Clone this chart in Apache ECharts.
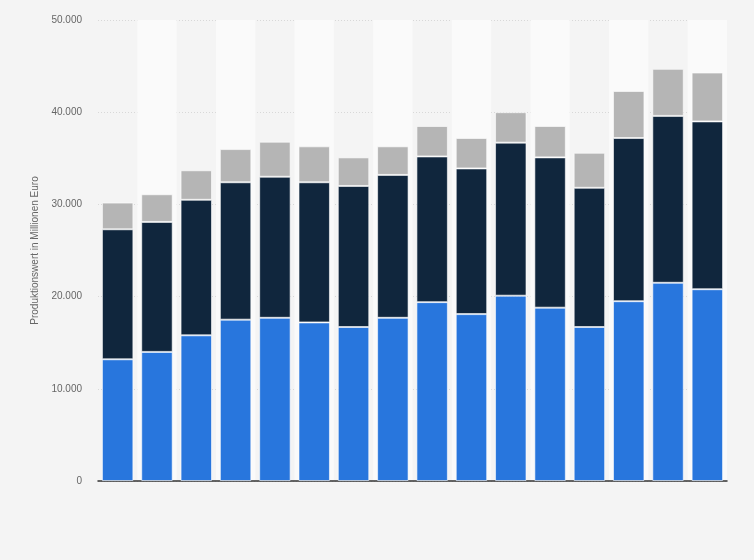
<!DOCTYPE html>
<html><head><meta charset="utf-8">
<script src="https://cdn.jsdelivr.net/npm/echarts@6/dist/echarts.min.js"></script>
<style>html,body{margin:0;padding:0;background:#f4f4f4}#c{width:754px;height:560px}</style>
</head><body><div id="c"></div>
<script>
const categories = ['1','2','3','4','5','6','7','8','9','10','11','12','13','14','15','16'];
const seriesA = [13200,14000,15800,17500,17700,17200,16700,17700,19400,18100,20100,18800,16700,19500,21500,20800];
const seriesB = [14100,14100,14700,14900,15300,15200,15300,15500,15800,15800,16600,16300,15100,17700,18100,18200];
const seriesC = [2900,3000,3200,3600,3800,3900,3100,3100,3300,3300,3300,3400,3800,5100,5100,5300];
const yTicks = [0,10000,20000,30000,40000,50000];
const chart = echarts.init(document.getElementById('c'));
const mk = (name, data, color) => ({name, type:'bar', stack:'s', data, barCategoryGap:'20%',
  itemStyle:{color, borderColor:'rgba(255,255,255,0.6)', borderWidth:1}});
chart.setOption({
  backgroundColor:'#f4f4f4',
  animation:false,
  grid:{left:98,right:27,top:20,bottom:79},
  xAxis:{type:'category',data:categories,
    axisLine:{lineStyle:{color:'#333',width:1.5}},axisTick:{show:false},axisLabel:{show:false},
    splitArea:{show:true,areaStyle:{color:['rgba(0,0,0,0)','#fafafa']}}},
  yAxis:{type:'value',min:yTicks[0],max:yTicks[yTicks.length-1],interval:10000,
    name:'Produktionswert in Millionen Euro',nameLocation:'middle',nameGap:58,
    nameTextStyle:{color:'#666',fontSize:10,fontFamily:'Arial, Liberation Sans'},
    axisLabel:{color:'#666',fontSize:10,fontFamily:'Arial, Liberation Sans',margin:16,
      formatter:v=>v===0?'0':v.toLocaleString('de-DE')},
    axisLine:{show:false},axisTick:{show:false},
    splitLine:{lineStyle:{color:'#d8d8d8',type:[1,2]}}},
  series:[mk('A',seriesA,'#2876dd'),mk('B',seriesB,'#10263d'),mk('C',seriesC,'#b5b5b5')]
});
</script></body></html>
